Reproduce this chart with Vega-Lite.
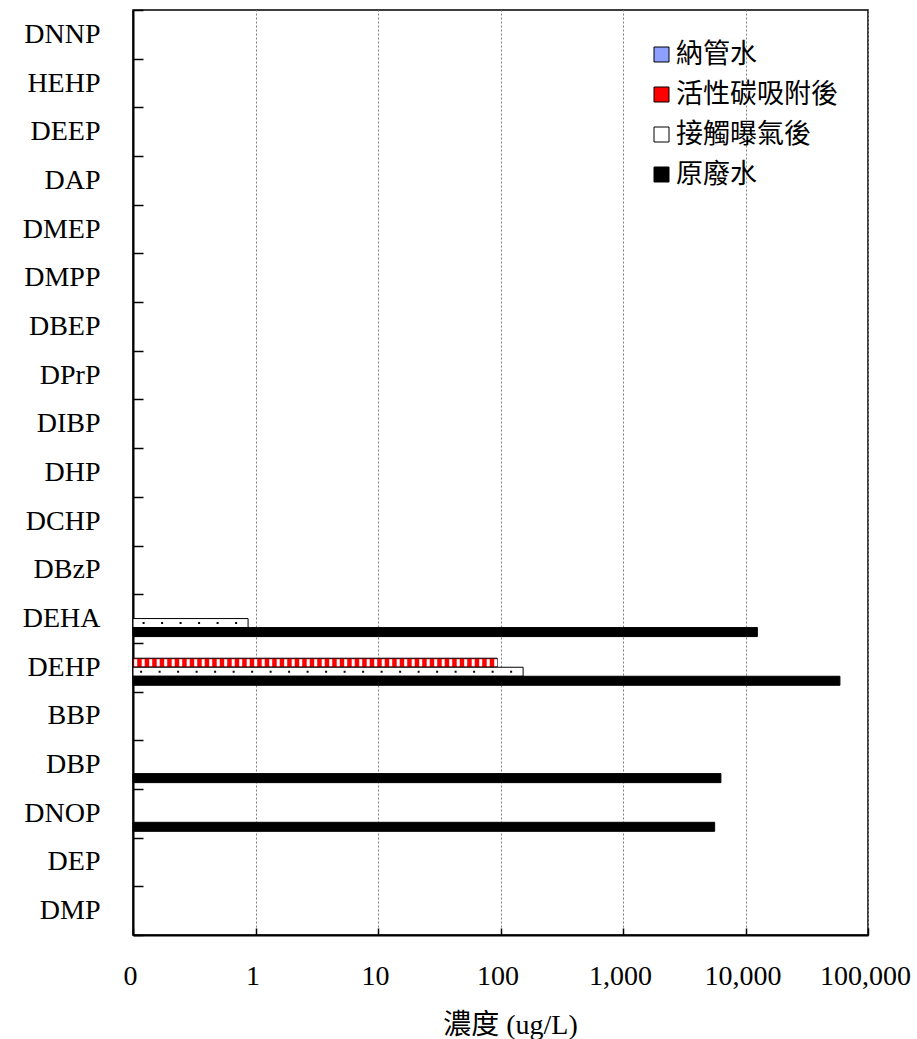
{
  "$schema": "https://vega.github.io/schema/vega-lite/v6.json",
  "width": 735,
  "height": 925,
  "autosize": "none",
  "padding": {"left": 133, "top": 10, "right": 49, "bottom": 104},
  "background": "white",
  "config": {"view": {"stroke": "#000", "strokeWidth": 1.5}},
  "data": {
    "values": [
      {"compound": "DEHA", "series": "接觸曝氣後", "value": 0.87},
      {"compound": "DEHA", "series": "原廢水", "value": 12500},
      {"compound": "DEHP", "series": "活性碳吸附後", "value": 94},
      {"compound": "DEHP", "series": "接觸曝氣後", "value": 153},
      {"compound": "DEHP", "series": "原廢水", "value": 59000},
      {"compound": "DBP", "series": "原廢水", "value": 6300},
      {"compound": "DNOP", "series": "原廢水", "value": 5600}
    ]
  },
  "encoding": {
    "y": {
      "field": "compound",
      "type": "nominal",
      "scale": {
        "domain": ["DNNP", "HEHP", "DEEP", "DAP", "DMEP", "DMPP", "DBEP", "DPrP", "DIBP", "DHP", "DCHP", "DBzP", "DEHA", "DEHP", "BBP", "DBP", "DNOP", "DEP", "DMP"],
        "paddingInner": 0,
        "paddingOuter": 0
      },
      "axis": {
        "title": null,
        "labelFont": "Liberation Serif",
        "labelFontSize": 28,
        "labelColor": "#000",
        "labelPadding": 43,
        "labelLimit": 300,
        "tickSize": -10,
        "tickColor": "#000",
        "tickWidth": 1.5,
        "domainColor": "#000",
        "domainWidth": 2,
        "tickBand": "extent",
        "grid": false
      }
    },
    "yOffset": {
      "field": "series",
      "type": "nominal",
      "scale": {
        "domain": ["納管水", "活性碳吸附後", "接觸曝氣後", "原廢水"],
        "paddingInner": 0,
        "paddingOuter": 0.7
      }
    },
    "x": {
      "field": "value",
      "type": "quantitative",
      "scale": {"type": "log", "domain": [0.1, 100000], "nice": false},
      "axis": {
        "title": "濃度 (ug/L)",
        "values": [0.1, 1, 10, 100, 1000, 10000, 100000],
        "labelExpr": "datum.value < 0.5 ? '0' : format(datum.value, ',')",
        "labelFont": "Liberation Serif",
        "labelFontSize": 28,
        "labelColor": "#000",
        "labelPadding": 34,
        "labelOffset": -3,
        "labelFlush": false,
        "labelOverlap": false,
        "tickSize": -7,
        "tickColor": "#000",
        "tickWidth": 1.5,
        "domainColor": "#000",
        "domainWidth": 2,
        "grid": true,
        "gridColor": "#808080",
        "gridDash": [2, 2],
        "gridWidth": 1,
        "titleFont": "Liberation Serif, Noto Sans CJK TC",
        "titleFontSize": 28,
        "titleFontWeight": "normal",
        "titleColor": "#000",
        "titleX": 377,
        "titleY": 90,
        "titleBaseline": "middle",
        "titleAlign": "center"
      }
    },
    "x2": {"datum": 0.1}
  },
  "layer": [
    {
      "mark": {"type": "bar", "stroke": "#000", "strokeWidth": 1, "fillOpacity": 1},
      "encoding": {
        "color": {
          "field": "series",
          "type": "nominal",
          "scale": {
            "domain": ["納管水", "活性碳吸附後", "接觸曝氣後", "原廢水"],
            "range": ["#8da0ff", "#ff0000", "#ffffff", "#000000"]
          },
          "legend": {
            "title": null,
            "orient": "none",
            "legendX": 515,
            "legendY": 31,
            "padding": 0,
            "symbolType": "square",
            "symbolSize": 225,
            "symbolStrokeColor": "#000",
            "symbolStrokeWidth": 1,
            "symbolOpacity": 1,
            "labelFont": "Noto Sans CJK TC",
            "labelFontSize": 27,
            "labelColor": "#000",
            "labelOffset": 1,
            "labelLimit": 300,
            "rowPadding": 12
          }
        }
      }
    },
    {
      "transform": [{"filter": "datum.series === '活性碳吸附後'"}],
      "mark": {"type": "rule", "stroke": "#fff", "strokeWidth": 7, "strokeDash": [3, 4.5]}
    },
    {
      "transform": [{"filter": "datum.series === '接觸曝氣後'"}],
      "mark": {"type": "rule", "stroke": "#000", "strokeWidth": 2, "strokeDash": [2, 16.5], "strokeDashOffset": 7.5}
    }
  ]
}
